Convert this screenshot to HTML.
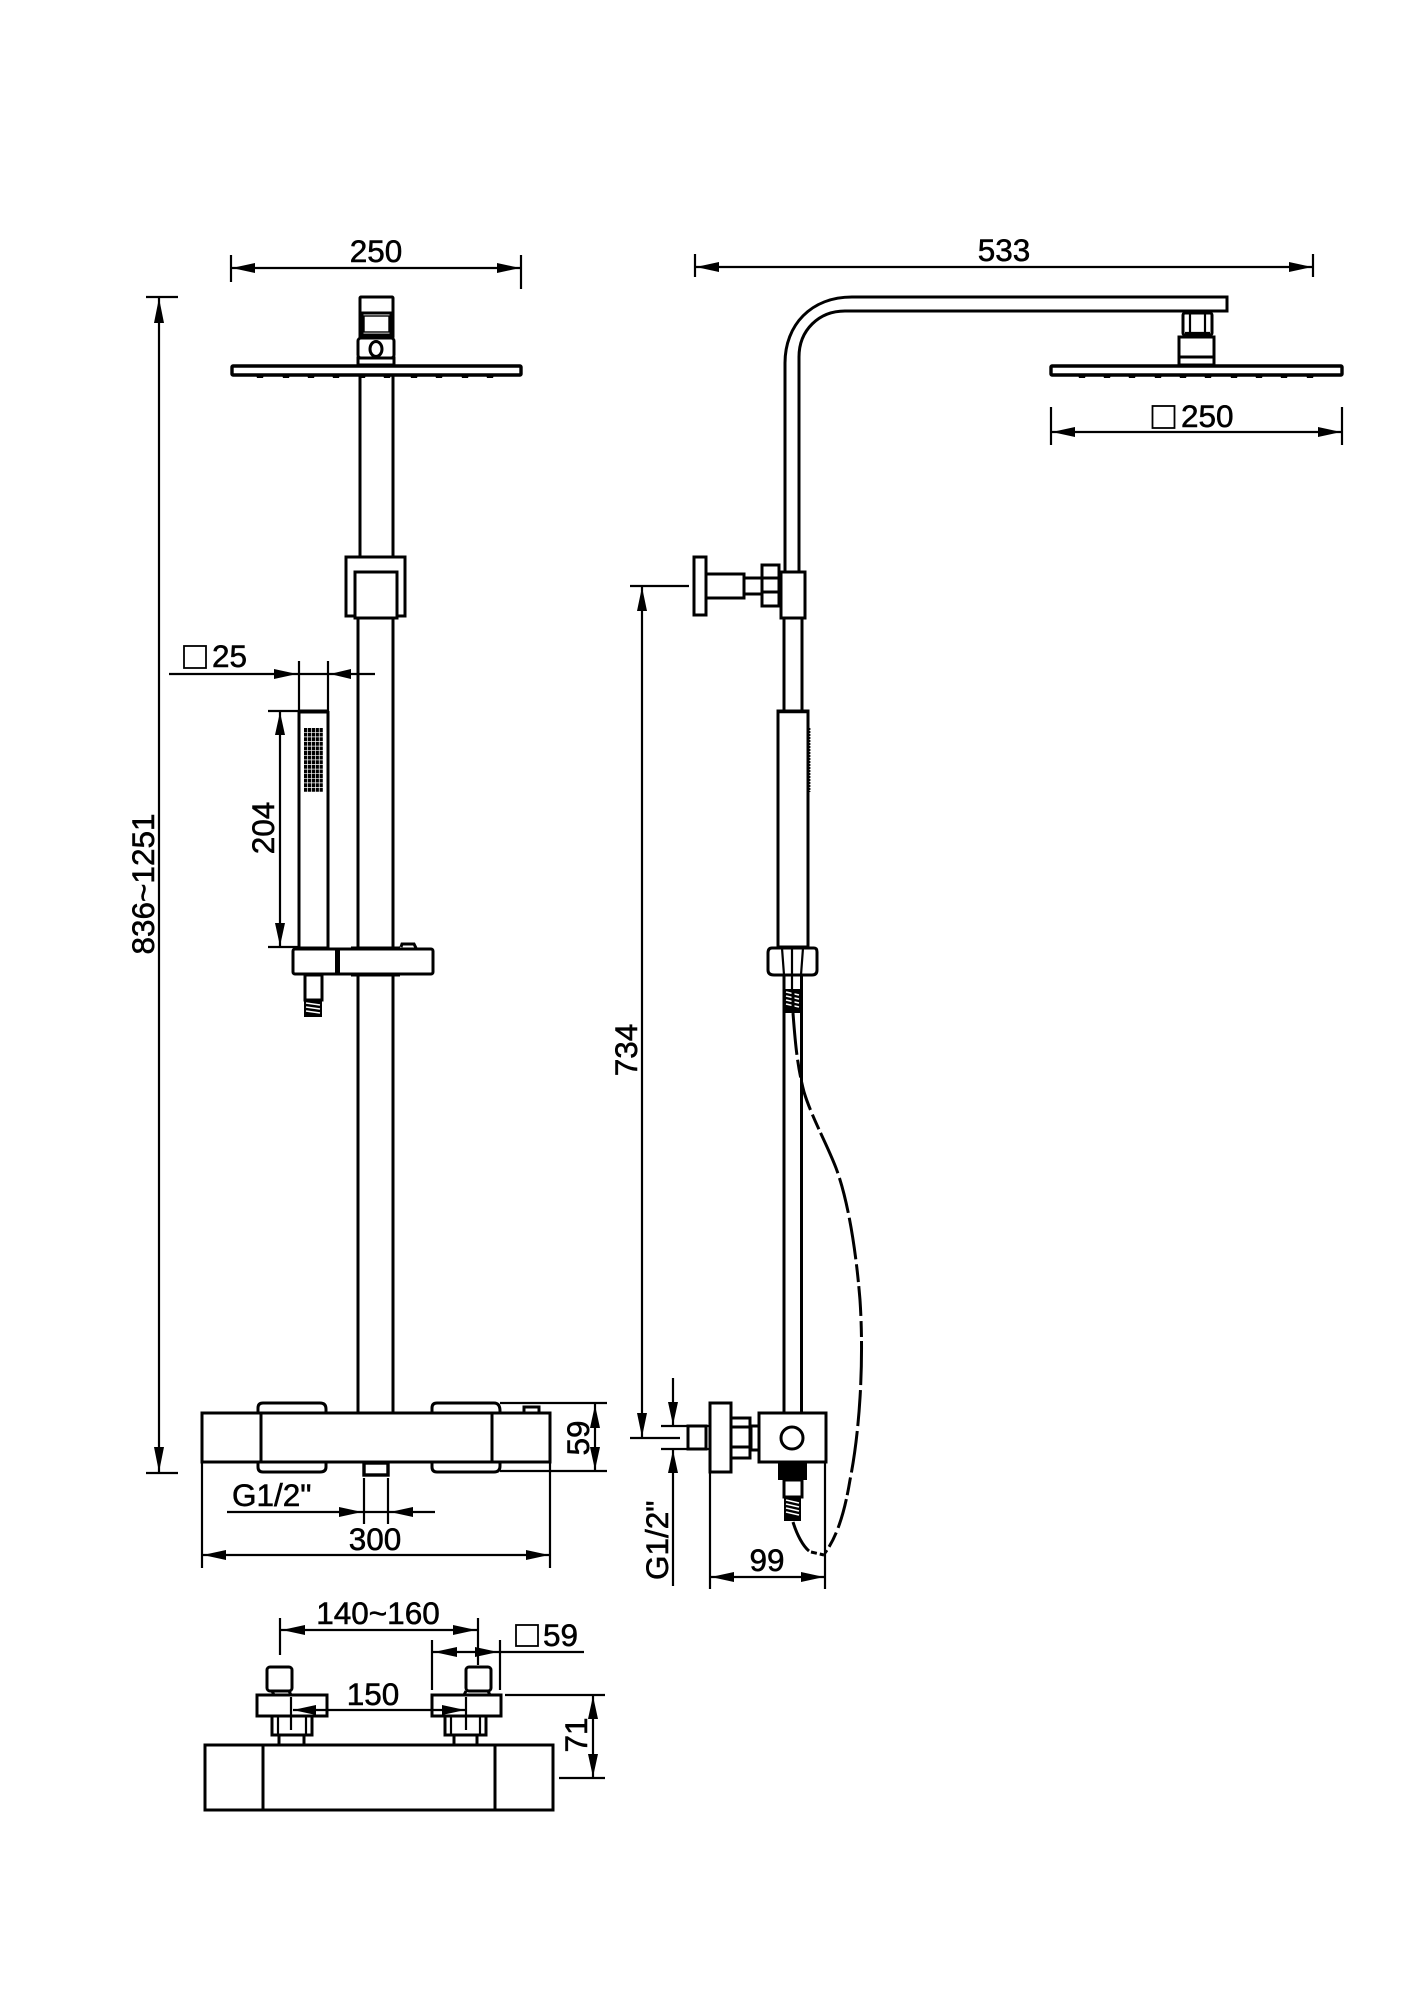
<!DOCTYPE html>
<html><head><meta charset="utf-8"><style>
html,body{margin:0;padding:0;background:#fff}
svg{display:block}
text{font-family:"Liberation Sans",sans-serif;font-size:31.5px;fill:#000;stroke:#000;stroke-width:.55}
.m{fill:#fff;stroke:#000;stroke-width:3}
.l{fill:none;stroke:#000;stroke-width:3}
.d{fill:none;stroke:#000;stroke-width:2.2}
.a{fill:#000;stroke:none}
.t{stroke:#fff;stroke-width:1.6;fill:none}
</style></head><body>
<svg width="1414" height="2000" viewBox="0 0 1414 2000" xmlns="http://www.w3.org/2000/svg">
<rect width="1414" height="2000" fill="#fff"/>

<!-- LEFT VIEW: head -->
<path class="d" d="M231 255V282M521 255V289M231 268H521"/>
<path class="a" d="M232 268l23-5v10zM520 268l-23-5v10z"/>
<text x="376" y="262" text-anchor="middle">250</text>

<rect class="m" x="360" y="297" width="33" height="41" rx="1"/>
<rect class="m" x="362" y="313" width="29" height="22"/>
<rect x="364" y="316" width="25" height="16" fill="#fff" stroke="#000" stroke-width="1.4"/>
<rect class="m" x="358" y="338" width="36" height="20" rx="3"/>
<ellipse cx="376" cy="349" rx="6" ry="7.5" class="m" stroke-width="3"/>
<rect class="m" x="358" y="358" width="36" height="7"/>
<path class="a" d="M256 375h8l-1 3h-6zM282 375h8l-1 3h-6zM307 375h8l-1 3h-6zM332 375h8l-1 3h-6zM358 375h8l-1 3h-6zM383 375h8l-1 3h-6zM410 375h8l-1 3h-6zM435 375h8l-1 3h-6zM461 375h8l-1 3h-6zM486 375h8l-1 3h-6z"/>
<rect x="232" y="366" width="289" height="9" rx="1" fill="#fff" stroke="#000" stroke-width="3.4"/>

<path class="l" d="M360 376V573M393 376V573"/>
<path class="l" d="M358 618V949M393 618V949M358 974V1413M393 974V1413"/>
<rect class="m" x="346" y="557" width="59" height="59"/>
<rect class="m" x="355" y="572" width="42" height="46"/>

<!-- square 25 dim -->
<rect x="184" y="646" width="22" height="22" fill="#fff" stroke="#000" stroke-width="1.8"/>
<text x="212" y="667">25</text>
<path class="d" d="M169 674H375M299 661V711M328 661V711"/>
<path class="a" d="M297 674l-23-5v10zM330 674l21-5v10z"/>

<!-- 204 dim -->
<path class="d" d="M268 711H300M268 947H298M280 712V946"/>
<path class="a" d="M280 712l-5 23h10zM280 946l-5-23h10z"/>
<text transform="translate(274 828) rotate(-90)" text-anchor="middle">204</text>

<!-- handset -->
<path class="l" d="M299 711V948" stroke-width="3.4"/>
<path class="l" d="M328 711V948"/>
<path d="M299 711.5H328" stroke="#000" stroke-width="4"/>
<g fill="none" stroke="#000" stroke-width="3.9" stroke-dasharray="3.2 .7">
<path d="M304 730H323M304 734.6H323M304 739.2H323M304 743.8H323M304 748.4H323M304 753H323M304 757.6H323M304 762.2H323M304 766.8H323M304 771.4H323M304 776H323M304 780.6H323M304 785.2H323M304 789.8H323"/>
</g>
<!-- holder bar -->
<rect class="m" x="293" y="949" width="140" height="25" rx="2"/>
<rect x="335" y="949" width="5" height="25" fill="#000"/>
<path d="M299 948H328M351 948H400M351 975H400" stroke="#000" stroke-width="3" fill="none"/>
<path class="l" stroke-width="2" d="M401 947l1-3h12l2 4"/>
<!-- hose bottom left -->
<rect class="m" x="305" y="975" width="17" height="25"/>
<rect x="304" y="1000" width="18" height="17" fill="#000"/>
<path class="t" d="M306 1003l14 2M306 1007l14 2M306 1011l14 2"/>

<!-- vertical total dim -->
<path class="d" d="M146 297H178M146 1473H178M159 297V1473"/>
<path class="a" d="M159 298l-5 25h10zM159 1472l-5-25h10z"/>
<text transform="translate(154 884) rotate(-90)" text-anchor="middle">836~1251</text>

<!-- thermostat front -->
<path class="l" d="M258 1413v-5q0-5 5-5h57q6 0 6 6v4M432 1413v-5q0-5 5-5h57q6 0 6 8v2M258 1462v5q0 5 5 5h57q6 0 6-5v-5M432 1462v5q0 5 5 5h57q6 0 6-6v-4"/>
<rect class="m" x="524" y="1407" width="15" height="6"/>
<rect class="m" x="202" y="1413" width="348" height="49"/>
<path class="l" d="M261 1413V1462" stroke-width="3.600"/>
<path class="l" d="M492 1413V1462"/>
<rect x="364" y="1463" width="24" height="12" fill="#fff" stroke="#000" stroke-width="3.4"/>

<path class="d" d="M500 1403H607M500 1471H607M595 1404V1471"/>
<path class="a" d="M595 1405l-5 23h10zM595 1470l-5-23h10z"/>
<text transform="translate(589 1438) rotate(-90)" text-anchor="middle">59</text>

<text x="232" y="1506">G1/2"</text>
<path class="d" d="M364 1478V1524M388 1478V1524M227 1512H435"/>
<path class="a" d="M362 1512l-23-5v10zM390 1512l23-5v10z"/>
<text x="375" y="1550" text-anchor="middle">300</text>
<path class="d" d="M202 1462V1568M550 1426V1568M202 1555H550"/>
<path class="a" d="M203 1555l23-5v10zM549 1555l-23-5v10z"/>

<!-- BOTTOM VIEW -->
<text x="378" y="1624" text-anchor="middle">140~160</text>
<path class="d" d="M280 1618V1655M478 1618V1665M280 1630H478"/>
<path class="a" d="M282 1630l23-5v10zM476 1630l-23-5v10z"/>
<rect x="516" y="1625" width="22" height="21" fill="#fff" stroke="#000" stroke-width="1.8"/>
<text x="543" y="1646">59</text>
<path class="d" d="M432 1640V1690M500 1640V1690M432 1652H584"/>
<path class="a" d="M434 1652l23-5v10zM498 1652l-23-5v10z"/>

<rect class="m" x="267" y="1667" width="25" height="24" rx="3"/>
<path class="l" d="M272 1691l2 4M289 1691l2 4"/>
<rect class="m" x="466" y="1667" width="25" height="24" rx="3"/>
<path class="l" d="M466 1691l-2 4M488 1691l2 4"/>
<rect class="m" x="279" y="1734" width="25" height="12"/>
<rect class="m" x="454" y="1734" width="23" height="12"/>
<rect class="m" x="272" y="1716" width="40" height="19"/>
<rect class="m" x="445" y="1716" width="41" height="19"/>
<path class="d" d="M278 1716V1735M306 1716V1735M451 1716V1735M480 1716V1735"/>
<rect class="m" x="257" y="1695" width="70" height="21"/>
<rect class="m" x="432" y="1695" width="69" height="21"/>
<rect class="m" x="205" y="1745" width="348" height="65"/>
<path class="l" d="M263 1745V1810"/>
<path class="l" d="M495 1745V1810" stroke-width="3.600"/>
<text x="373" y="1705" text-anchor="middle">150</text>
<path class="d" d="M291 1697V1730M466 1697V1730M293 1710H465"/>
<path class="a" d="M293 1710l23-5v10zM465 1710l-23-5v10z"/>
<path class="d" d="M505 1695H605M559 1778H605M593 1696V1778"/>
<path class="a" d="M593 1696l-5 23h10zM593 1777l-5-23h10z"/>
<text transform="translate(587 1735) rotate(-90)" text-anchor="middle">71</text>

<!-- RIGHT VIEW -->
<path class="d" d="M695 254V277M1313 254V277M695 267H1313"/>
<path class="a" d="M696 267l23-5v10zM1312 267l-23-5v10z"/>
<text x="1004" y="261" text-anchor="middle">533</text>

<path class="l" d="M785 572V363C785 325 811 297 852 297H1227V311H845C819 311 799 330 799 357V572" stroke-width="3.2"/>
<!-- head right -->
<rect class="m" x="1183" y="313" width="29" height="22" rx="2"/>
<path class="d" d="M1190 313V335M1205 313V335M1185 333H1210"/>
<rect class="m" x="1179" y="337" width="35" height="28"/>
<path d="M1179 357H1214" stroke="#000" stroke-width="3"/>
<path class="a" d="M1078 375h8l-1 3h-6zM1103 375h8l-1 3h-6zM1128 375h8l-1 3h-6zM1154 375h8l-1 3h-6zM1179 375h8l-1 3h-6zM1204 375h8l-1 3h-6zM1230 375h8l-1 3h-6zM1255 375h8l-1 3h-6zM1280 375h8l-1 3h-6zM1306 375h8l-1 3h-6z"/>
<rect x="1051" y="366" width="291" height="9" rx="1" fill="#fff" stroke="#000" stroke-width="3.4"/>

<rect x="1152.500" y="406" width="22" height="22" fill="#fff" stroke="#000" stroke-width="1.8"/>
<text x="1181" y="427">250</text>
<path class="d" d="M1051 407V445M1342 407V445M1051 432H1342"/>
<path class="a" d="M1052 432l23-5v10zM1341 432l-23-5v10z"/>

<!-- wall arm side -->
<rect class="m" x="744" y="578" width="18" height="16"/>
<rect class="m" x="706" y="574" width="38" height="24"/>
<rect class="m" x="694" y="557" width="12" height="58"/>
<rect class="m" x="762" y="565" width="17" height="41"/>
<path class="l" d="M762 578H779M762 592H779"/>
<rect x="778" y="572" width="3" height="34" fill="#000"/>
<path class="l" d="M784 618V711M802 618V711"/>
<rect class="m" x="781" y="572" width="24" height="46"/>

<!-- 734 dim -->
<path class="d" d="M630 586H689M642 586V1438M630 1438H680"/>
<path class="a" d="M642 587l-5 24h10zM642 1437l-5-24h10z"/>
<text transform="translate(637 1050) rotate(-90)" text-anchor="middle">734</text>

<!-- handset side -->
<rect class="m" x="778" y="711" width="30" height="236"/>
<path d="M778 711.500H808" stroke="#000" stroke-width="3.500"/>
<path d="M809.500 728V792" stroke="#000" stroke-width="1.800" stroke-dasharray="2 1" fill="none"/>
<path class="l" d="M784 976V1413M801.500 976V1413"/>
<path class="m" d="M772 948H814Q817 948 817 952V970Q817 975 812 975H774Q768 975 768 970V953Q768 948 772 948Z"/>
<path class="d" d="M782 948L784 975M792 948V989M803 948L801 975"/>
<rect x="784" y="989" width="18" height="24" fill="#000"/>
<path class="t" d="M786 992l13 3M786 996l13 3M786 1000l13 3M786 1004l13 3"/>
<path class="l" d="M793 1013V989"/>
<!-- hose -->
<path class="l" stroke-dasharray="42 5 18 4 30 5 16 4 44 5 36 5" d="M793 1013C795 1040 797 1065 804 1092C812 1118 826 1142 836 1168C848 1200 856 1250 860 1300C864 1360 860 1430 850 1480C845 1510 838 1535 825 1553"/>
<path class="l" d="M793 1522C797 1535 803 1546 809 1551" />
<path class="l" d="M811 1552L824 1555" stroke-width="2.200" stroke-dasharray="6 3"/>

<!-- valve side -->
<rect class="m" x="751" y="1426" width="8" height="24"/>
<rect class="m" x="731" y="1418" width="19" height="40"/>
<path class="l" d="M731 1427H750M731 1447H750"/>
<rect class="m" x="710" y="1403" width="21" height="69"/>
<rect class="m" x="759" y="1413" width="67" height="49"/>
<circle cx="792" cy="1438" r="11" class="m"/>
<rect x="778" y="1463" width="29" height="17" fill="#000"/>
<rect class="m" x="784" y="1480" width="18" height="17"/>
<rect x="784" y="1497" width="17" height="24" fill="#000"/>
<path class="t" d="M786 1500l13 3M786 1504l13 3M786 1508l13 3M786 1512l13 3"/>
<rect class="m" x="688" y="1426" width="18" height="23" stroke-width="3.600"/>
<path class="d" d="M706 1426H710M706 1449H710"/>
<path class="d" d="M661 1426H690M661 1449H690"/>

<path class="d" d="M673 1378V1425M673 1450V1586"/>
<path class="a" d="M673 1425l-5-23h10zM673 1450l-5 23h10z"/>
<text transform="translate(668 1580) rotate(-90)">G1/2"</text>

<text x="767" y="1571" text-anchor="middle">99</text>
<path class="d" d="M710 1472V1589M825 1462V1589M710 1577H825"/>
<path class="a" d="M711 1577l23-5v10zM824 1577l-23-5v10z"/>
</svg>
</body></html>
